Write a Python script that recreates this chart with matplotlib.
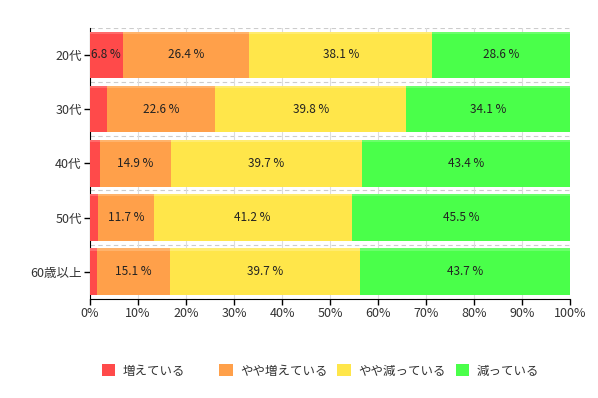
import numpy as np
import matplotlib.pyplot as plt

plt.rcParams['font.family'] = ['Noto Sans CJK JP', 'DejaVu Sans']

# data
groups = ['20代', '30代', '40代', '50代', '60歳以上']
series = ['増えている', 'やや増えている', 'やや減っている', '減っている']
inc = [6.8, 3.5, 2.0, 1.6, 1.5]
inc_some = [26.4, 22.6, 14.9, 11.7, 15.1]
dec_some = [38.1, 39.8, 39.7, 41.2, 39.7]
dec = [28.6, 34.1, 43.4, 45.5, 43.7]
colors = ['#ff4a4a', '#ffa04a', '#ffe64a', '#4aff4a']
top_colors = ['#ff6b6b', '#ffb36b', '#ffec70', '#6bff6b']

values = [inc, inc_some, dec_some, dec]

fig = plt.figure(figsize=(5.98, 3.98), dpi=100)
ax = fig.add_axes([0.1505, 0.249, 0.8027, 0.681])

y = np.arange(len(groups))
h = 0.86
left = np.zeros(len(groups))
handles = []
for vals, c, tc, name in zip(values, colors, top_colors, series):
    vals = np.array(vals)
    b = ax.barh(y, vals, height=h, left=left, color=c, label=name, zorder=3)
    # lighter top strip for the slight 3D look
    ax.barh(y - h / 2 + 0.02, vals, height=0.04, left=left, color=tc, zorder=4)
    handles.append(b)
    for yi, l, v in zip(y, left, vals):
        if v >= 5:
            ax.text(l + v / 2, yi, f'{v:.1f} %', ha='center', va='center',
                    fontsize=8.5, color='#222222', zorder=5)
    left = left + vals

ax.set_xlim(0, 100)
ax.set_ylim(len(groups) - 0.5, -0.5)
ax.set_yticks(y)
ax.set_yticklabels(groups, fontsize=9, color='#333333')
ax.set_xticks(np.arange(0, 101, 10))
ax.set_xticklabels([f'{v}%' for v in range(0, 101, 10)], fontsize=9, color='#333333')
ax.tick_params(axis='both', length=4, width=1, color='black', pad=2)

# grid: dashed lines between groups, light vertical lines
for b in np.arange(-0.5, len(groups), 1):
    ax.axhline(b, color='#cccccc', lw=0.8, ls=(0, (4, 3)), zorder=1)
ax.xaxis.grid(True, color='#dddddd', lw=0.8, zorder=0)

for s in ['top', 'right']:
    ax.spines[s].set_visible(False)
ax.spines['left'].set_color('black')
ax.spines['bottom'].set_color('black')

# legend entries in fixed-width slots like the original
legend_x = [0.170, 0.367, 0.564, 0.762]
for hnd, name, lx in zip(handles, series, legend_x):
    fig.legend(handles=[hnd], labels=[name], loc='center left',
               bbox_to_anchor=(lx, 0.068), frameon=False, fontsize=9,
               handlelength=1.1, handleheight=1.1, handletextpad=0.6,
               borderaxespad=0, borderpad=0, labelcolor='#333333')

fig.savefig('out.png', dpi=100)
